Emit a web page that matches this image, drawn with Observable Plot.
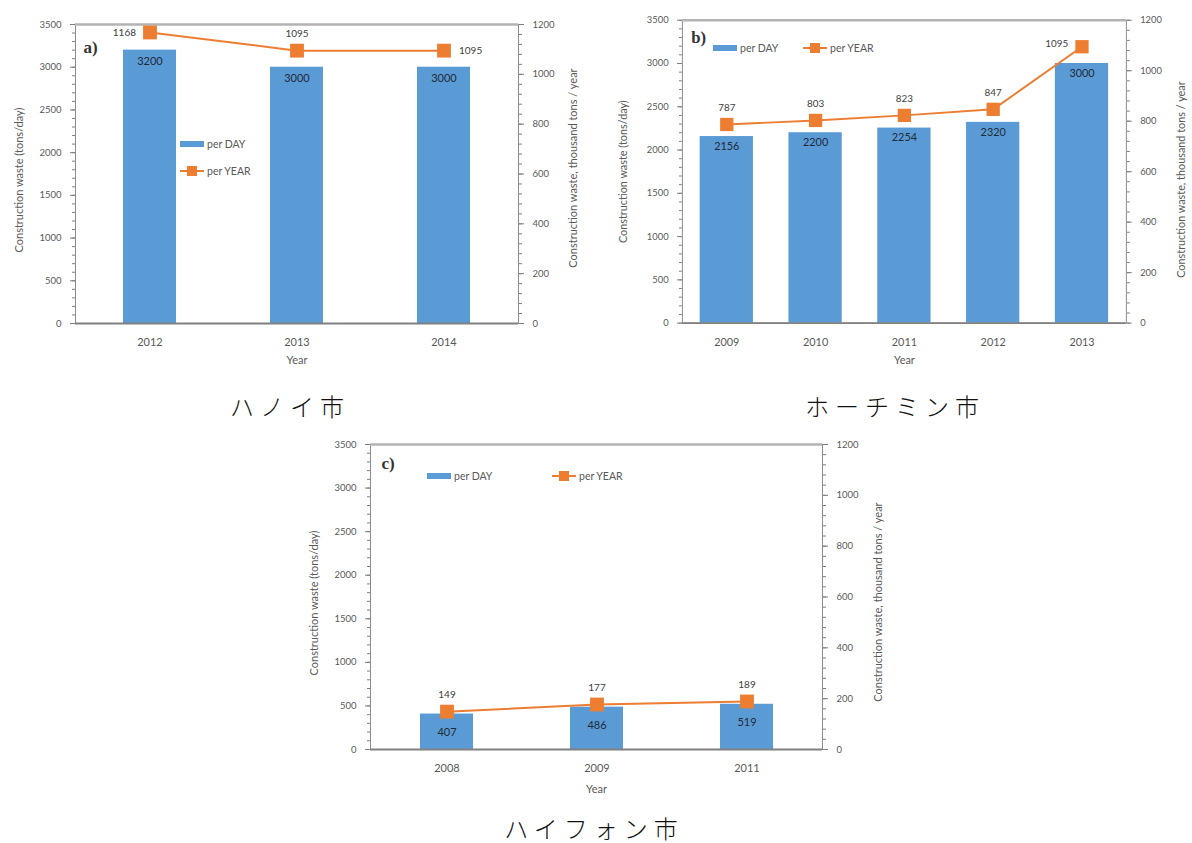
<!DOCTYPE html>
<html>
<head>
<meta charset="utf-8">
<script src="https://cdn.jsdelivr.net/npm/d3@7"></script>
<script src="https://cdn.jsdelivr.net/npm/@observablehq/plot@0.6"></script>
<style>
  html, body { margin: 0; padding: 0; background: #fff; }
  body { width: 1192px; height: 843px; overflow: hidden; position: relative; font-family: Lato, "Liberation Sans", sans-serif; }
  .panel { position: absolute; }
  .panel svg { overflow: visible; }
  .leg { position: absolute; display: flex; align-items: center; font-size: 10.5px; color: #595959; white-space: nowrap; }
  .sw { width: 24px; height: 6px; background: #5b9bd5; margin-right: 3px; }
  .ln { position: relative; width: 24px; height: 2px; background: #ed7d31; margin-right: 3px; }
  .ln::after { content: ""; position: absolute; left: 7px; top: -4px; width: 10px; height: 10px; background: #ed7d31; }
  .cap { position: absolute; font-family: "Noto Sans CJK JP", sans-serif; font-weight: 300; font-size: 24px; letter-spacing: 6px; color: #111; white-space: nowrap; transform: translate(-50%, -50%); }
</style>
</head>
<body>
<script>
// ---- data ----
const yearsA = ["2012", "2013", "2014"];
const perDayA = [3200, 3000, 3000];
const perYearA = [1168, 1095, 1095];

const yearsB = ["2009", "2010", "2011", "2012", "2013"];
const perDayB = [2156, 2200, 2254, 2320, 3000];
const perYearB = [787, 803, 823, 847, 1095];

const yearsC = ["2008", "2009", "2011"];
const perDayC = [407, 486, 519];
const perYearC = [149, 177, 189];

const leftTicks = [0, 500, 1000, 1500, 2000, 2500, 3000, 3500];
const rightTicks = [0, 200, 400, 600, 800, 1000, 1200];
const panelTags = ["a)", "b)", "c)"];
const cityNames = ["ハノイ市", "ホーチミン市", "ハイフォン市"];
const seriesNames = ["per DAY", "per YEAR"];
const leftTitle = "Construction waste (tons/day)";
const rightTitle = "Construction waste, thousand tons / year";
const xTitle = "Year";

// ---- drawing ----
const LEFT_MAX = 3500, RIGHT_MAX = 1200;
const K = LEFT_MAX / RIGHT_MAX;

function panel(years, perDay, perYear, tag, o) {
  const rows = years.map((year, i) => ({year, day: perDay[i], yr: perYear[i], yrS: perYear[i] * K, i}));
  const pos = (d) => o.place[d.i] || "top";
  return Plot.plot({
    width: o.w, height: o.h,
    marginLeft: o.ml, marginRight: o.mr, marginTop: o.mt, marginBottom: o.mb,
    style: {fontFamily: "Lato, 'Liberation Sans', sans-serif", fontSize: "10px", color: "#595959", background: "transparent", overflow: "visible"},
    x: {type: "band", domain: years, paddingInner: o.pi, paddingOuter: o.pi / 2},
    y: {domain: [0, LEFT_MAX]},
    marks: [
      Plot.frame({stroke: "#8c8c8c", strokeWidth: 1}),
      Plot.barY(rows, {x: "year", y: "day", fill: "#5b9bd5"}),
      Plot.ruleY([LEFT_MAX], {stroke: "#b3b3b3", strokeWidth: 2.5}),
      Plot.ruleY([0], {stroke: "#808080", strokeWidth: 2}),
      Plot.axisX({tickSize: 0, tickPadding: 15, fontSize: 11, label: null}),
      Plot.axisY({anchor: "left", ticks: d3.range(0, LEFT_MAX + 1, 100), tickSize: 3, tickFormat: () => "", label: null, stroke: "#7f7f7f"}),
      Plot.axisY({anchor: "left", ticks: leftTicks, tickSize: 5, tickPadding: 9, tickFormat: d => String(d), label: null, fontSize: 9.5, stroke: "#7f7f7f"}),
      Plot.axisY({anchor: "right", ticks: d3.range(0, RIGHT_MAX + 1, 40).map(v => v * K), tickSize: 3, tickFormat: () => "", label: null, stroke: "#7f7f7f"}),
      Plot.axisY({anchor: "right", ticks: rightTicks.map(v => v * K), tickSize: 5, tickPadding: 9, tickFormat: d => String(Math.round(d / K)), label: null, fontSize: 9.5, stroke: "#7f7f7f"}),
      Plot.text([xTitle], {frameAnchor: "bottom", dy: o.yearDy, fontSize: 11, fill: "#595959"}),
      Plot.text([leftTitle], {frameAnchor: "left", textAnchor: "middle", lineAnchor: "middle", rotate: -90, dx: o.ltDx, dy: o.ltDy, fontSize: 11, fill: "#595959"}),
      Plot.text([rightTitle], {frameAnchor: "right", textAnchor: "middle", lineAnchor: "middle", rotate: -90, dx: o.rtDx, dy: o.rtDy, fontSize: 11, fill: "#595959"}),
      Plot.text([tag], {frameAnchor: "top-left", textAnchor: "start", lineAnchor: "middle", dx: o.tagDx, dy: o.tagDy, fontSize: 17, fontWeight: "bold", fontFamily: "'Liberation Serif', 'DejaVu Serif', serif", fill: "#333"}),
      Plot.line(rows, {x: "year", y: "yrS", stroke: "#ed7d31", strokeWidth: 2}),
      Plot.dot(rows, {x: "year", y: "yrS", symbol: "square", r: o.r, fill: "#ed7d31", stroke: "none"}),
      Plot.text(rows, {x: "year", y: "day", text: d => String(d.day), dy: o.barDy, fill: "#1e2a38", fontSize: 11}),
      Plot.text(rows, {filter: d => pos(d) === "top", x: "year", y: "yrS", text: d => String(d.yr), dy: -17, fill: "#404040", fontSize: 10}),
      Plot.text(rows, {filter: d => pos(d) === "left", x: "year", y: "yrS", text: d => String(d.yr), textAnchor: "end", dx: -14, dy: o.leftDy || 0, fill: "#404040", fontSize: 10}),
      Plot.text(rows, {filter: d => pos(d) === "right", x: "year", y: "yrS", text: d => String(d.yr), textAnchor: "start", dx: 15, fill: "#404040", fontSize: 10})
    ]
  });
}

function place(el, left, top) {
  const d = document.createElement("div");
  d.className = "panel";
  d.style.left = left + "px";
  d.style.top = top + "px";
  d.appendChild(el);
  document.body.appendChild(d);
}

function legendItem(kind, text, left, top) {
  const d = document.createElement("div");
  d.className = "leg";
  d.style.left = left + "px";
  d.style.top = top + "px";
  const s = document.createElement("div");
  s.className = kind;
  d.appendChild(s);
  const t = document.createElement("span");
  t.textContent = text;
  d.appendChild(t);
  document.body.appendChild(d);
}

function caption(text, cx, cy) {
  const d = document.createElement("div");
  d.className = "cap";
  d.style.left = cx + "px";
  d.style.top = cy + "px";
  d.textContent = text;
  document.body.appendChild(d);
}

// Panel a
place(panel(yearsA, perDayA, perYearA, panelTags[0], {
  w: 600, h: 385, ml: 75, mr: 82, mt: 24, mb: 62, pi: 0.64, r: 7.8,
  place: ["left", "top", "right"], barDy: 11, yearDy: 40,
  ltDx: -56, ltDy: 6, rtDx: 55, rtDy: -6, tagDx: 8, tagDy: 23
}), 0, 0);

// Panel b
place(panel(yearsB, perDayB, perYearB, panelTags[1], {
  w: 600, h: 385, ml: 83, mr: 67, mt: 20, mb: 58, pi: 0.4, r: 7.6,
  place: ["top", "top", "top", "top", "left"], leftDy: -3, barDy: 10, yearDy: 41,
  ltDx: -60, ltDy: 0, rtDx: 56, rtDy: 8, tagDx: 9, tagDy: 18
}), 600, 0);

// Panel c
place(panel(yearsC, perDayC, perYearC, panelTags[2], {
  w: 620, h: 385, ml: 80, mr: 88, mt: 19, mb: 61, pi: 0.65, r: 7.8,
  place: ["top", "top", "top"], barDy: 18, yearDy: 43,
  ltDx: -56, ltDy: 6, rtDx: 56, rtDy: 5, tagDx: 11, tagDy: 19
}), 290, 425);

// Legends
legendItem("sw", seriesNames[0], 180, 138);
legendItem("ln", seriesNames[1], 180, 165);
legendItem("sw", seriesNames[0], 713, 42);
legendItem("ln", seriesNames[1], 803, 42);
legendItem("sw", seriesNames[0], 427, 470);
legendItem("ln", seriesNames[1], 552, 470);

// Captions
caption(cityNames[0], 290, 405);
caption(cityNames[1], 895, 405);
caption(cityNames[2], 594, 827);
</script>
</body>
</html>
